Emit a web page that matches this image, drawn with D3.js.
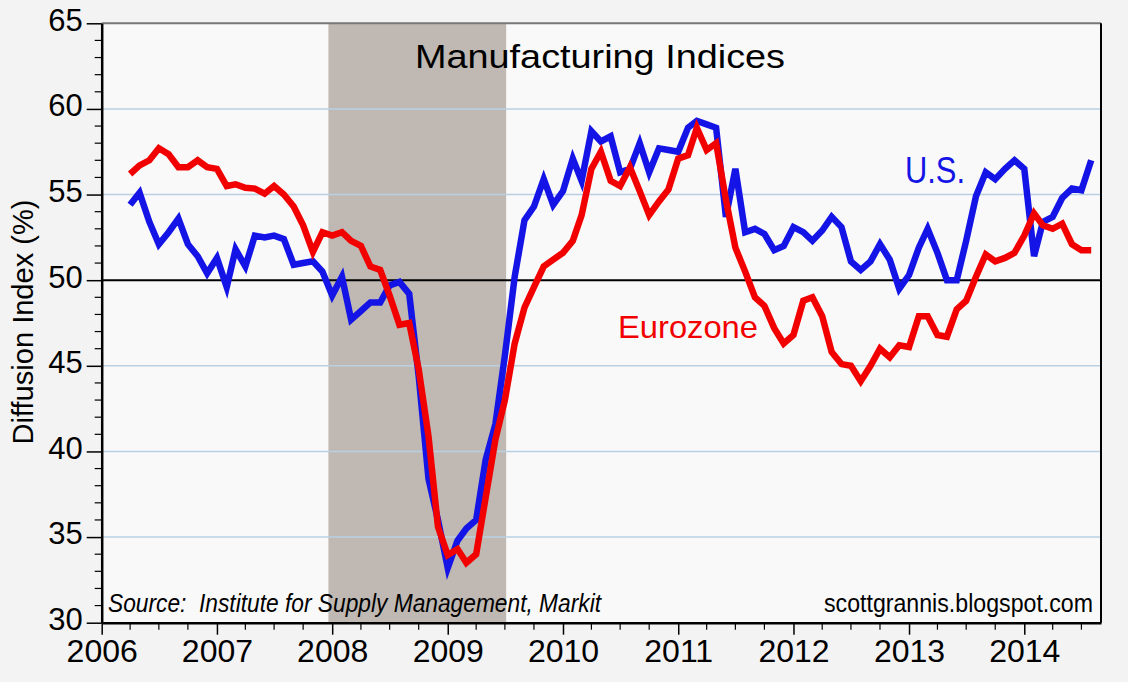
<!DOCTYPE html>
<html>
<head>
<meta charset="utf-8">
<script src="https://cdn.jsdelivr.net/npm/d3@7"></script>
<style>
  body { margin: 0; background: #f4f3f3; }
  svg { display: block; }
</style>
</head>
<body>
<svg id="chart" width="1128" height="682"></svg>
<script>
// monthly readings, Mar 2006 .. Jul 2014, each one plotted at the end of its month
const months = d3.timeMonth.range(new Date(2006, 3, 1), new Date(2014, 8, 1));

const usPmi = [
  54.4, 55.1, 53.4, 52.1, 52.8, 53.6, 52.1, 51.4, 50.4, 51.3, 49.6, 51.8,
  50.8, 52.6, 52.5, 52.6, 52.4, 50.9, 51.0, 51.1, 50.5, 49.1, 50.2, 47.7,
  48.2, 48.7, 48.7, 49.7, 49.9, 49.2, 44.4, 38.4, 36.0, 33.2, 34.8, 35.5,
  36.0, 39.5, 41.6, 45.6, 50.2, 53.5, 54.3, 55.9, 54.4, 55.2, 57.1, 55.8,
  58.7, 58.1, 58.4, 56.3, 56.5, 58.0, 56.3, 57.7, 57.6, 57.5, 58.9, 59.3,
  59.1, 58.9, 53.7, 56.5, 52.8, 53.0, 52.7, 51.75, 52.0, 53.1, 52.8, 52.3,
  52.9, 53.7, 53.1, 51.1, 50.6, 51.1, 52.1, 51.2, 49.5, 50.3, 51.9, 53.0,
  51.6, 50.0, 50.0, 52.3, 54.9, 56.3, 55.9, 56.5, 57.0, 56.5, 51.4, 53.4,
  53.7, 54.8, 55.35, 55.25, 57.0
];

const ezPmi = [
  56.2, 56.7, 57.0, 57.7, 57.35, 56.6, 56.6, 57.0, 56.6, 56.5, 55.5, 55.6,
  55.4, 55.35, 55.05, 55.5, 55.0, 54.3, 53.2, 51.65, 52.8, 52.6, 52.8, 52.3,
  52.0, 50.8, 50.6, 49.1, 47.4, 47.5, 44.8, 40.9, 35.6, 33.95, 34.3, 33.5,
  34.0, 37.3, 40.7, 43.0, 46.3, 48.4, 49.6, 50.8, 51.2, 51.6, 52.3, 53.8,
  56.5, 57.5, 55.8, 55.5, 56.6, 55.2, 53.8, 54.6, 55.3, 57.1, 57.3, 58.9,
  57.6, 58.0, 54.7, 51.9, 50.5, 49.0, 48.5, 47.2, 46.3, 46.8, 48.8, 49.0,
  47.9, 45.8, 45.1, 45.0, 44.1, 45.0, 46.0, 45.5, 46.2, 46.1, 47.9, 47.9,
  46.8, 46.7, 48.3, 48.8, 50.2, 51.5, 51.1, 51.3, 51.6, 52.6, 53.9, 53.2,
  53.0, 53.3, 52.1, 51.75, 51.75
];

const recession = [new Date(2007, 11, 20), new Date(2009, 6, 5)];
const yTicks = [30, 35, 40, 45, 50, 55, 60, 65];
const yearLabels = ["2006", "2007", "2008", "2009", "2010", "2011", "2012", "2013", "2014"];

const W = 1128, H = 682;
const pLeft = 101.7, pTop = 23.3, pRight = 1101, pBottom = 622.7;
const font = "'Liberation Sans', Arial, sans-serif";

const svg = d3.select("#chart");

const x = d3.scaleTime()
  .domain([new Date(2006, 0, 1), new Date(2014, 8, 1)])
  .range([pLeft, pRight]);
const y = d3.scaleLinear().domain([30, 65]).range([pBottom, pTop]);

svg.append("rect").attr("width", W).attr("height", H).attr("fill", "#f4f3f3");
svg.append("rect")
  .attr("x", pLeft).attr("y", pTop)
  .attr("width", pRight - pLeft).attr("height", pBottom - pTop)
  .attr("fill", "#f9f9f9");

// recession bar
svg.append("rect")
  .attr("x", x(recession[0])).attr("y", pTop)
  .attr("width", x(recession[1]) - x(recession[0]))
  .attr("height", pBottom - pTop)
  .attr("fill", "#bfb8b3");

// light grid
svg.append("g").selectAll("line")
  .data(yTicks.filter(v => v > 30 && v < 65 && v !== 50))
  .join("line")
  .attr("x1", pLeft).attr("x2", pRight)
  .attr("y1", d => y(d)).attr("y2", d => y(d))
  .attr("stroke", "#b9d0e2").attr("stroke-width", 1.5);

svg.append("line")
  .attr("x1", pLeft).attr("x2", pRight)
  .attr("y1", y(50)).attr("y2", y(50))
  .attr("stroke", "#000").attr("stroke-width", 2);

// text inside the plot
svg.append("text")
  .attr("x", 108).attr("y", 612)
  .style("white-space", "pre")
  .attr("font-family", font).attr("font-style", "italic").attr("font-size", 25)
  .attr("textLength", 493).attr("lengthAdjust", "spacingAndGlyphs")
  .text("Source:  Institute for Supply Management, Markit");

svg.append("text")
  .attr("x", 1093).attr("y", 612).attr("text-anchor", "end")
  .attr("font-family", font).attr("font-size", 25)
  .attr("textLength", 269).attr("lengthAdjust", "spacingAndGlyphs")
  .text("scottgrannis.blogspot.com");

// series
const line = d3.line()
  .x((d, i) => x(months[i]))
  .y(d => y(d));

svg.append("path").datum(usPmi)
  .attr("d", line).attr("fill", "none")
  .attr("stroke", "#1414e6").attr("stroke-width", 6.5)
  .attr("stroke-linejoin", "miter");

svg.append("path").datum(ezPmi)
  .attr("d", line).attr("fill", "none")
  .attr("stroke", "#f20000").attr("stroke-width", 6.5)
  .attr("stroke-linejoin", "miter");

// frame
svg.append("line").attr("x1", pLeft).attr("x2", pRight).attr("y1", pTop).attr("y2", pTop)
  .attr("stroke", "#777").attr("stroke-width", 2);
svg.append("line").attr("x1", pRight).attr("x2", pRight).attr("y1", pTop).attr("y2", pBottom)
  .attr("stroke", "#000").attr("stroke-width", 2);

// y axis
const gy = svg.append("g")
  .attr("transform", `translate(${pLeft},0)`)
  .call(d3.axisLeft(y).tickValues(yTicks).tickSize(15).tickPadding(4).tickSizeOuter(0));
gy.attr("font-family", font).attr("font-size", 31);
gy.select(".domain").attr("stroke-width", 2.5);
gy.selectAll(".tick line").attr("stroke-width", 1.5);
gy.selectAll(".tick text").attr("dy", "0.22em");

svg.append("g").selectAll("line")
  .data(d3.range(30, 66).filter(v => v % 5 !== 0))
  .join("line")
  .attr("x1", pLeft - 7).attr("x2", pLeft)
  .attr("y1", d => y(d)).attr("y2", d => y(d))
  .attr("stroke", "#000").attr("stroke-width", 1.2);

// x axis
const yearDates = yearLabels.map(s => new Date(+s, 0, 1));
const gx = svg.append("g")
  .attr("transform", `translate(0,${pBottom})`)
  .call(d3.axisBottom(x).tickValues(yearDates).tickSize(12).tickPadding(5)
    .tickSizeOuter(0).tickFormat((d, i) => yearLabels[i]));
gx.attr("font-family", font).attr("font-size", 32);
gx.select(".domain").attr("stroke-width", 2.5);
gx.selectAll(".tick line").attr("stroke-width", 1.5);

svg.append("g").selectAll("line")
  .data(d3.timeMonth.every(3).range(new Date(2006, 0, 1), new Date(2014, 8, 2))
    .filter(d => d.getMonth() !== 0))
  .join("line")
  .attr("x1", d => x(d)).attr("x2", d => x(d))
  .attr("y1", pBottom).attr("y2", pBottom + 7)
  .attr("stroke", "#000").attr("stroke-width", 1.2);

// titles and labels
svg.append("text")
  .attr("x", 600).attr("y", 68).attr("text-anchor", "middle")
  .attr("font-family", font).attr("font-size", 33)
  .attr("textLength", 370).attr("lengthAdjust", "spacingAndGlyphs")
  .text("Manufacturing Indices");

svg.append("text")
  .attr("transform", "translate(33,322) rotate(-90)")
  .attr("text-anchor", "middle")
  .attr("font-family", font).attr("font-size", 30)
  .attr("textLength", 245).attr("lengthAdjust", "spacingAndGlyphs")
  .text("Diffusion Index (%)");

svg.append("text")
  .attr("x", 905).attr("y", 183)
  .attr("font-family", font).attr("font-size", 36).attr("fill", "#1414e6")
  .attr("textLength", 60).attr("lengthAdjust", "spacingAndGlyphs")
  .text("U.S.");

svg.append("text")
  .attr("x", 618).attr("y", 338)
  .attr("font-family", font).attr("font-size", 32).attr("fill", "#f20000")
  .attr("textLength", 140).attr("lengthAdjust", "spacingAndGlyphs")
  .text("Eurozone");
</script>
</body>
</html>
